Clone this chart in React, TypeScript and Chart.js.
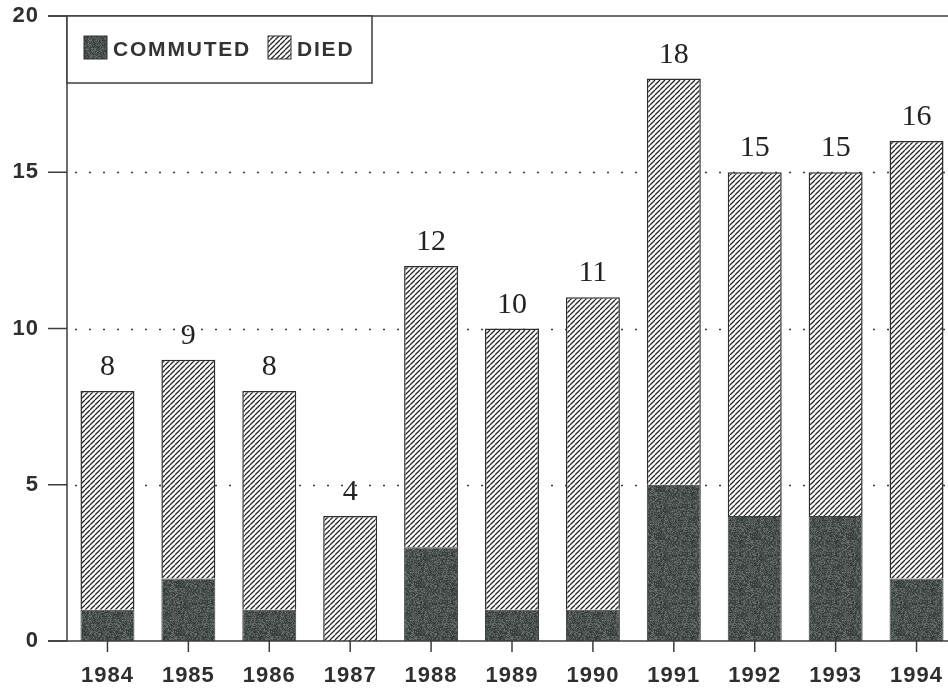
import React, { useEffect, useRef } from "react";
import { Chart, registerables } from "chart.js";

Chart.register(...registerables);

const years = ["1984", "1985", "1986", "1987", "1988", "1989", "1990", "1991", "1992", "1993", "1994"];
const commuted = [1, 2, 1, 0, 3, 1, 1, 5, 4, 4, 2];
const died = [7, 7, 7, 4, 9, 9, 10, 13, 11, 11, 14];
const yTicks = [0, 5, 10, 15, 20];
const seriesNames = ["COMMUTED", "DIED"];

const INK = "#2c2e2d";
const SANS = "'Liberation Sans', Arial, sans-serif";
const SERIF = "'Liberation Serif', 'Times New Roman', serif";

function makeHatch(): CanvasPattern | string {
  const c = document.createElement("canvas");
  c.width = 5;
  c.height = 5;
  const g = c.getContext("2d");
  if (!g) return "#fff";
  g.fillStyle = "#ffffff";
  g.fillRect(0, 0, 5, 5);
  g.strokeStyle = "#262626";
  g.lineWidth = 1.25;
  for (const k of [-5, 0, 5]) {
    g.beginPath();
    g.moveTo(k, 5);
    g.lineTo(k + 5, 0);
    g.stroke();
  }
  return g.createPattern(c, "repeat") || "#fff";
}

function makeSpeckle(): CanvasPattern | string {
  const size = 48;
  const c = document.createElement("canvas");
  c.width = size;
  c.height = size;
  const g = c.getContext("2d");
  if (!g) return "#4d524f";
  const img = g.createImageData(size, size);
  let s = 12345;
  for (let i = 0; i < size * size; i++) {
    s = (s * 1103515245 + 12345) & 0x7fffffff;
    const t = (s >> 8) % 100;
    let v = 80;
    if (t < 22) v = 54;
    else if (t < 42) v = 68;
    else if (t > 85) v = 112;
    else if (t > 70) v = 96;
    img.data[i * 4] = v - 3;
    img.data[i * 4 + 1] = v + 3;
    img.data[i * 4 + 2] = v;
    img.data[i * 4 + 3] = 255;
  }
  g.putImageData(img, 0, 0);
  return g.createPattern(c, "repeat") || "#4d524f";
}

export default function App() {
  const ref = useRef<HTMLCanvasElement | null>(null);

  useEffect(() => {
    const canvas = ref.current;
    if (!canvas) return;
    const hatch = makeHatch();
    const speckle = makeSpeckle();
    const totals = commuted.map((v, i) => v + died[i]);

    const decor = {
      id: "decor",
      beforeDraw(chart: any) {
        (chart.ctx as any).letterSpacing = "1px";
      },
      beforeDatasetsDraw(chart: any) {
        const { ctx, chartArea: a, scales } = chart;
        const y = scales.y;
        ctx.save();
        ctx.strokeStyle = "#3a3a3a";
        ctx.lineWidth = 1.6;
        ctx.setLineDash([2, 12]);
        for (const v of yTicks) {
          if (v === yTicks[0] || v === yTicks[yTicks.length - 1]) continue;
          const py = Math.round(y.getPixelForValue(v)) + 0.5;
          ctx.beginPath();
          ctx.moveTo(a.left + 8, py);
          ctx.lineTo(a.right, py);
          ctx.stroke();
        }
        ctx.restore();
      },
      afterDatasetsDraw(chart: any) {
        const { ctx, chartArea: a, scales } = chart;
        const x = scales.x;
        const y = scales.y;
        ctx.save();
        ctx.strokeStyle = "#3c3c3c";
        ctx.lineWidth = 1.5;
        for (const v of [yTicks[0], yTicks[yTicks.length - 1]]) {
          const py = y.getPixelForValue(v);
          ctx.beginPath();
          ctx.moveTo(a.left - 19, py);
          ctx.lineTo(a.right, py);
          ctx.stroke();
        }
        for (const v of yTicks) {
          const py = y.getPixelForValue(v);
          ctx.beginPath();
          ctx.moveTo(a.left - 19, py);
          ctx.lineTo(a.left, py);
          ctx.stroke();
        }
        ctx.beginPath();
        ctx.moveTo(a.left, a.top);
        ctx.lineTo(a.left, a.bottom);
        ctx.stroke();
        years.forEach((_, i) => {
          const px = x.getPixelForValue(i);
          ctx.beginPath();
          ctx.moveTo(px, a.bottom);
          ctx.lineTo(px, a.bottom + 11);
          ctx.stroke();
        });
        (ctx as any).letterSpacing = "0px";
        ctx.fillStyle = "#222";
        ctx.font = `30px ${SERIF}`;
        ctx.textAlign = "center";
        ctx.textBaseline = "alphabetic";
        totals.forEach((t, i) => {
          const px = x.getPixelForValue(i);
          const py = y.getPixelForValue(t);
          ctx.fillText(String(t), px, py - 16);
        });
        const bx = a.left;
        const by = a.top;
        ctx.fillStyle = "#fff";
        ctx.fillRect(bx, by, 305, 67);
        ctx.strokeStyle = "#3c3c3c";
        ctx.lineWidth = 1.5;
        ctx.strokeRect(bx, by, 305, 67);
        ctx.fillStyle = speckle as any;
        ctx.fillRect(bx + 17, by + 20, 23, 23);
        ctx.strokeStyle = "#333";
        ctx.lineWidth = 1;
        ctx.strokeRect(bx + 17, by + 20, 23, 23);
        ctx.fillStyle = "#333";
        ctx.font = `bold 21px ${SANS}`;
        ctx.textAlign = "left";
        ctx.textBaseline = "middle";
        (ctx as any).letterSpacing = "1.8px";
        ctx.fillText(seriesNames[0], bx + 46, by + 34);
        ctx.fillStyle = hatch as any;
        ctx.fillRect(bx + 201, by + 20, 23, 23);
        ctx.strokeStyle = "#333";
        ctx.strokeRect(bx + 201, by + 20, 23, 23);
        ctx.fillStyle = "#333";
        ctx.fillText(seriesNames[1], bx + 230, by + 34);
        ctx.restore();
      },
    };

    const chart = new Chart(canvas, {
      type: "bar",
      data: {
        labels: years,
        datasets: [
          {
            label: seriesNames[0],
            data: commuted,
            backgroundColor: speckle as any,
            borderColor: "#3a3d3b",
            borderWidth: 1,
            barPercentage: 0.667,
            categoryPercentage: 1,
          },
          {
            label: seriesNames[1],
            data: died,
            backgroundColor: hatch as any,
            borderColor: INK,
            borderWidth: 1.5,
            barPercentage: 0.667,
            categoryPercentage: 1,
          },
        ],
      },
      options: {
        responsive: false,
        animation: false,
        events: [],
        layout: { padding: { top: 16, right: 0, left: 0, bottom: 0 } },
        plugins: {
          legend: { display: false },
          tooltip: { enabled: false },
          title: { display: false },
        },
        scales: {
          x: {
            stacked: true,
            offset: true,
            grid: { display: false, drawTicks: false },
            border: { display: false },
            ticks: {
              color: "#2f2f2f",
              font: { family: SANS, size: 22, weight: "bold" },
              padding: 22,
              maxRotation: 0,
              autoSkip: false,
            },
            afterFit: (s: any) => {
              s.height = 48;
              s.paddingLeft = 0;
              s.paddingRight = 0;
            },
          },
          y: {
            stacked: true,
            min: 0,
            max: 20,
            grid: { display: false, drawTicks: false },
            border: { display: false },
            ticks: {
              stepSize: 5,
              color: "#2f2f2f",
              font: { family: SANS, size: 22, weight: "bold" },
              padding: 28,
            },
            afterFit: (s: any) => {
              s.width = 67;
              s.paddingTop = 0;
              s.paddingBottom = 0;
            },
          },
        },
      },
      plugins: [decor],
    });
    return () => chart.destroy();
  }, []);

  return (
    <div
      style={{
        position: "fixed",
        left: 0,
        top: 0,
        width: 948,
        height: 689,
        overflow: "hidden",
        background: "#fff",
      }}
    >
      <canvas ref={ref} width={957} height={689} style={{ display: "block" }} />
    </div>
  );
}
